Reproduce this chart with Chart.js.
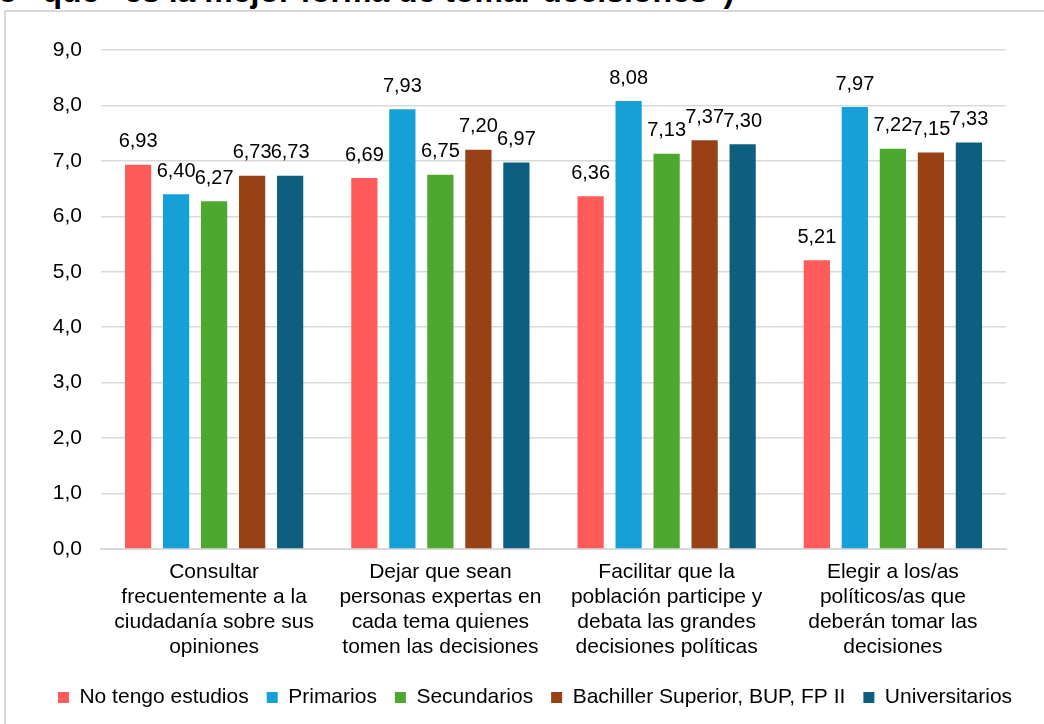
<!DOCTYPE html>
<html>
<head>
<meta charset="utf-8">
<script src="https://cdn.jsdelivr.net/npm/chart.js@4"></script>
<style>
  body { margin: 0; background: #fff; overflow: hidden; }
  #title { position: absolute; left: -2px; top: -27px; font: bold 32px "Liberation Sans", Arial, sans-serif; color: #000; white-space: nowrap; }
  #frame { position: absolute; left: 4px; top: 10px; width: 1060px; height: 740px; border-left: 2px solid #d9d9d9; border-top: 2px solid #d9d9d9; }
  #wrap { position: absolute; left: 0; top: 0; width: 1044px; height: 724px; }
</style>
</head>
<body>
<div id="title">o “que” es la mejor forma de tomar decisiones”)</div>
<div id="frame"></div>
<div id="wrap"><canvas id="chart"></canvas></div>
<script>
//データ
var categories = [
  ['Consultar', 'frecuentemente a la', 'ciudadanía sobre sus', 'opiniones'],
  ['Dejar que sean', 'personas expertas en', 'cada tema quienes', 'tomen las decisiones'],
  ['Facilitar que la', 'población participe y', 'debata las grandes', 'decisiones políticas'],
  ['Elegir a los/as', 'políticos/as que', 'deberán tomar las', 'decisiones']
];
var seriesNames = ['No tengo estudios', 'Primarios', 'Secundarios', 'Bachiller Superior, BUP, FP II', 'Universitarios'];
var sinEstudios = [6.93, 6.69, 6.36, 5.21];
var primarios = [6.40, 7.93, 8.08, 7.97];
var secundarios = [6.27, 6.75, 7.13, 7.22];
var bachiller = [6.73, 7.20, 7.37, 7.15];
var universitarios = [6.73, 6.97, 7.30, 7.33];
var yTicks = [0, 1, 2, 3, 4, 5, 6, 7, 8, 9];

var colors = ['#FF5B5B', '#16A0D8', '#4EA72E', '#974114', '#0D5F80'];
var values = [sinEstudios, primarios, secundarios, bachiller, universitarios];

var FONT = '"Liberation Sans", Arial, sans-serif';

function comma(v, d) {
  return v.toFixed(d).replace('.', ',');
}

//ラベル
var valueLabels = {
  id: 'valueLabels',
  afterDatasetsDraw: function(chart) {
    var ctx = chart.ctx;
    ctx.save();
    ctx.font = '20px ' + FONT;
    ctx.fillStyle = '#000';
    ctx.textAlign = 'center';
    ctx.textBaseline = 'bottom';
    chart.data.datasets.forEach(function(ds, i) {
      chart.getDatasetMeta(i).data.forEach(function(bar, j) {
        ctx.fillText(comma(ds.data[j], 2), bar.x, bar.y - 13);
      });
    });
    ctx.restore();
  }
};

//凡例を少し右へ
var legendShift = {
  id: 'legendShift',
  afterLayout: function(chart) {
    chart.legend.left += 32;
    chart.legend.right += 32;
  }
};

var chart = new Chart(document.getElementById('chart'), {
  type: 'bar',
  data: {
    labels: categories,
    datasets: values.map(function(v, i) {
      return {
        label: seriesNames[i],
        data: v,
        backgroundColor: colors[i],
        categoryPercentage: 0.84,
        barPercentage: 0.69
      };
    })
  },
  options: {
    responsive: true,
    maintainAspectRatio: false,
    animation: false,
    layout: {
      padding: { left: 0, right: 38, top: 50, bottom: 6 }
    },
    plugins: {
      legend: {
        position: 'bottom',
        labels: {
          color: '#000',
          font: { family: FONT, size: 21 },
          boxWidth: 11,
          boxHeight: 11,
          padding: 18
        }
      },
      tooltip: { enabled: false }
    },
    scales: {
      x: {
        grid: { display: false },
        border: { color: '#d9d9d9', width: 2 },
        ticks: {
          color: '#000',
          font: { family: FONT, size: 21, lineHeight: 1.19 },
          padding: 3,
          maxRotation: 0,
          autoSkip: false
        },
        afterFit: function(scale) { scale.height = 120; }
      },
      y: {
        min: 0,
        max: 9,
        afterBuildTicks: function(scale) {
          scale.ticks = yTicks.map(function(t) { return { value: t }; });
        },
        grid: { color: '#d9d9d9', lineWidth: 1.5, drawTicks: false },
        border: { display: false },
        ticks: {
          color: '#000',
          font: { family: FONT, size: 21 },
          padding: 19,
          callback: function(v) { return comma(v, 1); }
        },
        afterFit: function(scale) { scale.width = 101; }
      }
    }
  },
  plugins: [valueLabels, legendShift]
});
</script>
</body>
</html>
